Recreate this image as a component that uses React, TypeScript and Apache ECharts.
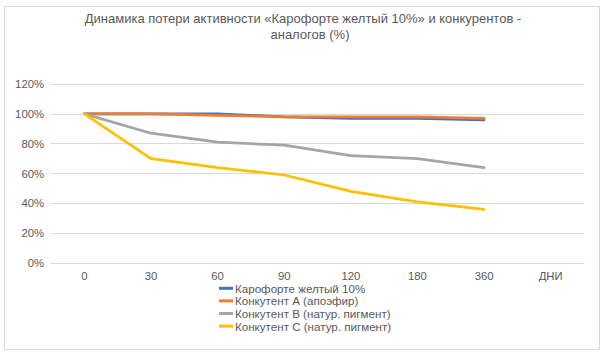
import React, { useEffect, useRef } from "react";
import * as echarts from "echarts";

const categories = ["0", "30", "60", "90", "120", "180", "360", "ДНИ"];
const seriesNames = [
  "Карофорте желтый 10%",
  "Конкутент А (апоэфир)",
  "Конкутент В (натур. пигмент)",
  "Конкутент С (натур. пигмент)",
];
const karoforte = [100, 100, 100, 98, 97, 97, 96];
const competitorA = [100, 100, 99, 98, 98, 98, 97];
const competitorB = [100, 87, 81, 79, 72, 70, 64];
const competitorC = [100, 70, 64, 59, 48, 41, 36];
const yTicks = [0, 20, 40, 60, 80, 100, 120];
const titleLines = [
  "Динамика потери активности «Карофорте желтый 10%» и конкурентов -",
  "аналогов (%)",
];

const colors = ["#4472C4", "#ED7D31", "#A5A5A5", "#FFC000"];
const FONT = "Liberation Sans";

export default function App() {
  const ref = useRef<HTMLDivElement>(null);
  useEffect(() => {
    if (!ref.current) return;
    const chart = echarts.init(ref.current, null, { renderer: "svg" });
    const values = [karoforte, competitorA, competitorB, competitorC];
    const titleStyle = {
      fontFamily: FONT,
      fontSize: 13,
      fontWeight: "normal",
      color: "#595959",
      lineHeight: 16,
    };
    chart.setOption({
      animation: false,
      backgroundColor: "#ffffff",
      title: [
        {
          text: titleLines[0],
          left: 303,
          top: 10,
          padding: 0,
          textAlign: "center",
          textStyle: titleStyle,
        },
        {
          text: titleLines[1],
          left: 310,
          top: 26,
          padding: 0,
          textAlign: "center",
          textStyle: titleStyle,
        },
      ],
      graphic: [
        {
          type: "rect",
          shape: { x: 4.5, y: 6.5, width: 595, height: 343 },
          style: { fill: "none", stroke: "#d9d9d9", lineWidth: 1 },
          silent: true,
        },
      ],
      legend: {
        orient: "vertical",
        left: 219,
        top: 282,
        padding: 0,
        itemWidth: 14,
        itemHeight: 3,
        itemGap: 0,
        icon: "rect",
        textStyle: {
          fontFamily: FONT,
          fontSize: 11.6,
          color: "#595959",
          lineHeight: 12.6,
          padding: [0, 0, 0, -3],
        },
        data: seriesNames,
      },
      grid: { left: 51, right: 24, top: 84, bottom: 94 },
      xAxis: {
        type: "category",
        data: categories,
        boundaryGap: true,
        axisLine: { lineStyle: { color: "#d9d9d9", width: 1 } },
        axisTick: { show: false },
        axisLabel: {
          fontFamily: FONT,
          fontSize: 11.3,
          lineHeight: 10,
          color: "#595959",
          margin: 8,
        },
      },
      yAxis: {
        type: "value",
        min: yTicks[0],
        max: yTicks[yTicks.length - 1],
        interval: 20,
        axisLine: { show: false },
        axisTick: { show: false },
        splitLine: { lineStyle: { color: "#d9d9d9", width: 1 } },
        axisLabel: {
          fontFamily: FONT,
          fontSize: 11.3,
          color: "#595959",
          margin: 7,
          formatter: (v: number) => `${v}%`,
        },
      },
      series: seriesNames.map((name, i) => ({
        name,
        type: "line",
        data: values[i],
        symbol: "none",
        lineStyle: { width: 2.75, color: colors[i], cap: "round" },
        itemStyle: { color: colors[i] },
        z: 2 + i,
      })),
    });
    return () => chart.dispose();
  }, []);
  return (
    <div
      ref={ref}
      style={{ position: "fixed", left: 0, top: 0, width: 608, height: 357 }}
    />
  );
}
